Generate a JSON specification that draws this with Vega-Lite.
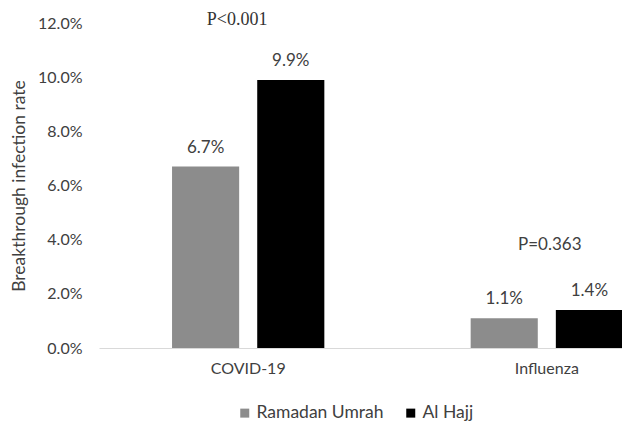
{
  "$schema": "https://vega.github.io/schema/vega-lite/v6.json",
  "width": 523,
  "height": 325,
  "autosize": {"type": "none"},
  "padding": {"left": 99, "top": 23, "right": 0, "bottom": 76},
  "background": "white",
  "config": {"view": {"stroke": null}, "font": "Lato"},
  "datasets": {
    "bars": [
      {"disease": "COVID-19", "group": "Ramadan Umrah", "rate": 0.067},
      {"disease": "COVID-19", "group": "Al Hajj", "rate": 0.099},
      {"disease": "Influenza", "group": "Ramadan Umrah", "rate": 0.011},
      {"disease": "Influenza", "group": "Al Hajj", "rate": 0.014}
    ],
    "notes": [
      {"disease": "COVID-19", "note": "P<0.001", "y": 0.121},
      {"disease": "Influenza", "note": "P=0.363", "y": 0.038}
    ]
  },
  "layer": [
    {
      "data": {"name": "bars"},
      "mark": {"type": "bar"},
      "encoding": {
        "x": {
          "field": "disease", "type": "nominal", "sort": ["COVID-19", "Influenza"],
          "scale": {"range": [0, 597], "paddingInner": 0.49, "paddingOuter": 0.2446},
          "axis": {"title": null, "labelAngle": 0, "ticks": false, "domainColor": "#d9d9d9", "domainWidth": 1, "labelPadding": 12, "labelFontSize": 16, "labelColor": "#404040"}
        },
        "xOffset": {
          "field": "group", "type": "nominal", "sort": ["Ramadan Umrah", "Al Hajj"],
          "scale": {"paddingInner": 0.212, "paddingOuter": 0}
        },
        "y": {
          "field": "rate", "type": "quantitative",
          "scale": {"domain": [0, 0.12], "nice": false},
          "axis": {"format": ".1%", "values": [0, 0.02, 0.04, 0.06, 0.08, 0.1, 0.12], "grid": false, "domain": false, "ticks": false, "labelPadding": 17, "labelFontSize": 16, "labelColor": "#404040", "title": "Breakthrough infection rate", "titleFontSize": 17.5, "titleFontWeight": "normal", "titleColor": "#404040", "titlePadding": 9}
        },
        "color": {
          "field": "group", "type": "nominal",
          "scale": {"domain": ["Ramadan Umrah", "Al Hajj"], "range": ["#8c8c8c", "#000000"]},
          "legend": {"orient": "none", "legendX": 137, "legendY": 381, "direction": "horizontal", "title": null, "symbolType": "square", "symbolSize": 81, "symbolStrokeWidth": 0, "labelFontSize": 17.5, "labelColor": "#404040", "columnPadding": 18, "labelOffset": 3}
        }
      }
    },
    {
      "data": {"name": "bars"},
      "mark": {"type": "text", "baseline": "middle", "dy": -19, "fontSize": 17, "color": "#404040"},
      "encoding": {
        "x": {"field": "disease", "type": "nominal", "sort": ["COVID-19", "Influenza"]},
        "xOffset": {"field": "group", "type": "nominal", "sort": ["Ramadan Umrah", "Al Hajj"]},
        "y": {"field": "rate", "type": "quantitative"},
        "text": {"field": "rate", "type": "quantitative", "format": ".1%"}
      }
    },
    {
      "data": {"name": "notes"},
      "transform": [{"filter": "datum.disease === 'COVID-19'"}],
      "mark": {"type": "text", "baseline": "middle", "dx": -11, "fontSize": 18, "font": "Liberation Serif", "color": "#333333"},
      "encoding": {
        "x": {"field": "disease", "type": "nominal"},
        "y": {"field": "y", "type": "quantitative"},
        "text": {"field": "note"}
      }
    },
    {
      "data": {"name": "notes"},
      "transform": [{"filter": "datum.disease === 'Influenza'"}],
      "mark": {"type": "text", "baseline": "middle", "dx": 3, "fontSize": 17, "color": "#404040"},
      "encoding": {
        "x": {"field": "disease", "type": "nominal"},
        "y": {"field": "y", "type": "quantitative"},
        "text": {"field": "note"}
      }
    }
  ]
}
